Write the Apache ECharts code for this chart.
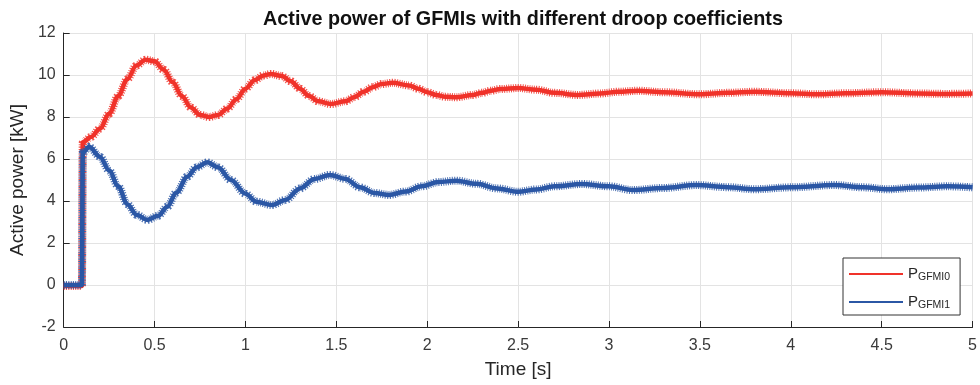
<!DOCTYPE html>
<html>
<head>
<meta charset="utf-8">
<script src="https://cdn.jsdelivr.net/npm/echarts@6/dist/echarts.min.js"></script>
<style>
html,body{margin:0;padding:0;background:#fff;}
#chart{width:980px;height:385px;}
</style>
</head>
<body>
<div id="chart"></div>
<script>
// Time stamps [s] and active power [kW]
var tRed = [0, 0.05, 0.1, 0.105, 0.15, 0.2, 0.25, 0.3, 0.35, 0.4, 0.45, 0.5, 0.55, 0.6, 0.65, 0.7, 0.75, 0.8, 0.85, 0.9, 0.95, 1.0, 1.05, 1.1, 1.14, 1.2, 1.25, 1.3, 1.35, 1.4, 1.47, 1.55, 1.6, 1.65, 1.7, 1.75, 1.81, 1.9, 1.95, 2.0, 2.05, 2.1, 2.16, 2.25, 2.3, 2.35, 2.4, 2.5, 2.6, 2.7, 2.83, 2.95, 3.05, 3.16, 3.3, 3.5, 3.65, 3.8, 4.0, 4.15, 4.3, 4.5, 4.7, 4.85, 5.0];
var pRed = [-0.05, -0.05, -0.05, 6.8, 7.05, 7.45, 8.15, 9.0, 9.8, 10.45, 10.73, 10.65, 10.25, 9.65, 9.0, 8.45, 8.1, 8.0, 8.1, 8.4, 8.85, 9.35, 9.75, 9.98, 10.05, 9.95, 9.7, 9.35, 9.0, 8.75, 8.62, 8.75, 8.95, 9.2, 9.42, 9.57, 9.63, 9.5, 9.35, 9.18, 9.05, 8.96, 8.94, 9.05, 9.15, 9.25, 9.33, 9.38, 9.3, 9.15, 9.05, 9.12, 9.2, 9.25, 9.18, 9.08, 9.15, 9.2, 9.13, 9.08, 9.13, 9.18, 9.12, 9.1, 9.12];
var tBlue = [0, 0.05, 0.1, 0.105, 0.14, 0.2, 0.25, 0.3, 0.35, 0.4, 0.46, 0.52, 0.57, 0.62, 0.68, 0.73, 0.79, 0.85, 0.92, 1.0, 1.06, 1.145, 1.22, 1.3, 1.38, 1.465, 1.55, 1.63, 1.71, 1.79, 1.88, 1.97, 2.06, 2.16, 2.27, 2.385, 2.5, 2.6, 2.7, 2.85, 3.0, 3.13, 3.3, 3.48, 3.65, 3.8, 4.0, 4.24, 4.4, 4.53, 4.7, 4.86, 5.0];
var pBlue = [0, 0, 0, 6.3, 6.58, 6.1, 5.45, 4.7, 3.85, 3.35, 3.1, 3.3, 3.73, 4.4, 5.16, 5.6, 5.84, 5.6, 5.0, 4.35, 3.97, 3.81, 4.05, 4.6, 5.05, 5.24, 5.05, 4.65, 4.38, 4.29, 4.45, 4.7, 4.9, 4.97, 4.82, 4.6, 4.44, 4.55, 4.7, 4.81, 4.7, 4.52, 4.62, 4.76, 4.66, 4.56, 4.65, 4.76, 4.65, 4.56, 4.64, 4.7, 4.65];
var xTicks = [0, 0.5, 1, 1.5, 2, 2.5, 3, 3.5, 4, 4.5, 5];
var yTicks = [-2, 0, 2, 4, 6, 8, 10, 12];

function pairs(t, v) { return t.map(function (x, i) { return [x, v[i]]; }); }

var RED = '#f0322a', BLUE = '#2b57a5';
var FONT = '"Liberation Sans", Arial, sans-serif';

function core(name, data, color) {
  return {
    name: name, type: 'line', data: data, showSymbol: false, symbol: 'none',
    smooth: 0.35, smoothMonotone: 'x', animation: false,
    lineStyle: { color: color, width: 4.5 }, itemStyle: { color: color }, z: 3
  };
}
function ripple(name, data, color) {
  return {
    name: name, type: 'line', data: data, showSymbol: false, symbol: 'none',
    smooth: 0.35, smoothMonotone: 'x', animation: false, silent: true,
    lineStyle: { color: color, width: 8, type: [1, 1.3], cap: 'butt', opacity: 0.85 }, z: 3
  };
}

var chart = echarts.init(document.getElementById('chart'), null, { renderer: 'canvas' });
chart.setOption({
  animation: false,
  backgroundColor: '#fff',
  textStyle: { fontFamily: FONT },
  title: {
    text: 'Active power of GFMIs with different droop coefficients',
    left: 518, top: 5, textAlign: 'center',
    textStyle: { fontFamily: FONT, fontSize: 19.8, fontWeight: 'bold', color: '#111' }
  },
  grid: { left: 63, right: 5, top: 33, bottom: 58, containLabel: false },
  xAxis: {
    type: 'value', min: 0, max: 5, interval: 0.5,
    name: 'Time [s]', nameLocation: 'middle', nameGap: 33,
    nameTextStyle: { fontFamily: FONT, fontSize: 19, color: '#262626' },
    axisLine: { show: true, onZero: false, lineStyle: { color: '#262626', width: 1 } },
    axisTick: { show: true, inside: true, length: 6, lineStyle: { color: '#262626' } },
    axisLabel: { fontFamily: FONT, fontSize: 16, color: '#3a3a3a', margin: 11,
      formatter: function (v) { return String(v); } },
    splitLine: { show: true, lineStyle: { color: '#e3e3e3', width: 1 } }
  },
  yAxis: {
    type: 'value', min: -2, max: 12, interval: 2,
    name: 'Active power [kW]', nameLocation: 'middle', nameGap: 31, nameRotate: 90,
    nameTextStyle: { fontFamily: FONT, fontSize: 19, color: '#262626' },
    axisLine: { show: true, onZero: false, lineStyle: { color: '#262626', width: 1 } },
    axisTick: { show: true, inside: true, length: 6, lineStyle: { color: '#262626' } },
    axisLabel: { fontFamily: FONT, fontSize: 16, color: '#3a3a3a', margin: 8 },
    splitLine: { show: true, lineStyle: { color: '#e3e3e3', width: 1 } }
  },
  legend: {
    data: ['PGFMI0', 'PGFMI1'],
    orient: 'vertical', left: 843, top: 258,
    backgroundColor: '#fff', borderColor: '#333', borderWidth: 1,
    padding: [5, 10, 4, 6], itemGap: 8, itemWidth: 54, itemHeight: 2,
    icon: 'rect',
    formatter: function (n) { return '{p|P}{s|' + n.slice(1) + '}'; },
    textStyle: {
      fontFamily: FONT, color: '#262626',
      rich: {
        p: { fontSize: 15, color: '#262626', fontFamily: FONT, lineHeight: 18 },
        s: { fontSize: 10.5, color: '#262626', fontFamily: FONT, verticalAlign: 'bottom', padding: [9, 0, 0, 0], lineHeight: 18 }
      }
    }
  },
  series: [
    core('PGFMI0', pairs(tRed, pRed), RED),
    ripple('rippleRed', pairs(tRed, pRed), RED),
    core('PGFMI1', pairs(tBlue, pBlue), BLUE),
    ripple('rippleBlue', pairs(tBlue, pBlue), BLUE)
  ]
});
</script>
</body>
</html>
